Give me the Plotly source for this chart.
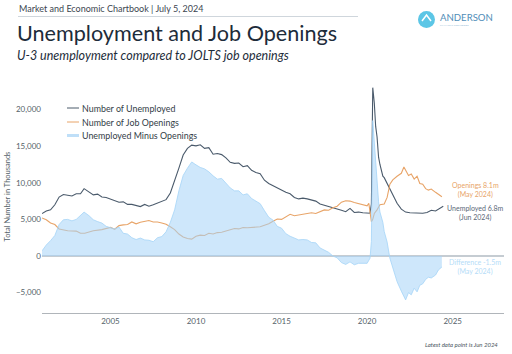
import plotly.graph_objects as go

FONT = "Lato"

unemp_t = [2001.0,2001.25,2001.5,2001.75,2002.0,2002.25,2002.5,2002.75,2003.0,2003.25,2003.46,2003.75,2004.0,2004.25,2004.5,2004.75,2005.0,2005.25,2005.5,2005.75,2006.0,2006.25,2006.5,2006.75,2007.0,2007.25,2007.5,2007.75,2008.0,2008.25,2008.5,2008.75,2009.0,2009.25,2009.5,2009.75,2010.0,2010.25,2010.5,2010.75,2011.0,2011.25,2011.5,2011.75,2012.0,2012.25,2012.5,2012.75,2013.0,2013.25,2013.5,2013.75,2014.0,2014.25,2014.5,2014.75,2015.0,2015.25,2015.5,2015.75,2016.0,2016.25,2016.5,2016.75,2017.0,2017.25,2017.5,2017.75,2018.0,2018.25,2018.5,2018.75,2019.0,2019.25,2019.5,2019.75,2020.0,2020.17,2020.25,2020.33,2020.42,2020.5,2020.58,2020.67,2020.75,2020.92,2021.0,2021.25,2021.5,2021.75,2022.0,2022.25,2022.5,2022.75,2023.0,2023.25,2023.5,2023.75,2024.0,2024.25,2024.45]
unemp_v = [5800,6150,6300,7000,8050,8400,8300,8200,8500,8500,9200,8800,8350,8450,8050,8000,7800,7600,7350,7400,7050,7050,6950,6750,7050,6800,7000,7250,7500,7700,8600,10200,12000,13800,14700,15150,15050,15200,14700,14800,13900,14000,13850,13400,12800,12650,12700,12200,12350,11700,11400,11250,10350,9900,9600,9300,8900,8700,8500,8000,7800,7900,7800,7650,7500,7100,6950,6750,6600,6400,6250,6050,6500,5950,6000,5900,5850,5850,7100,23000,20900,17700,16300,13500,12500,10900,10700,9500,8500,7200,6400,6000,5900,5900,5800,5850,5950,6250,6150,6500,6800]

open_t = [2001.0,2001.25,2001.5,2001.75,2002.0,2002.5,2003.0,2003.25,2003.5,2003.75,2004.0,2004.5,2005.0,2005.25,2005.5,2005.75,2006.0,2006.25,2006.5,2006.75,2007.0,2007.25,2007.5,2007.75,2008.0,2008.25,2008.5,2008.75,2009.0,2009.25,2009.5,2009.75,2010.0,2010.25,2010.5,2010.75,2011.0,2011.25,2011.5,2011.75,2012.0,2012.25,2012.5,2012.75,2013.0,2013.25,2013.5,2013.75,2014.0,2014.25,2014.5,2014.75,2015.0,2015.25,2015.5,2015.75,2016.0,2016.25,2016.5,2016.75,2017.0,2017.25,2017.5,2017.75,2018.0,2018.25,2018.5,2018.75,2019.0,2019.25,2019.5,2019.75,2020.0,2020.1,2020.17,2020.25,2020.33,2020.42,2020.58,2020.75,2021.0,2021.17,2021.33,2021.5,2021.75,2022.0,2022.15,2022.42,2022.58,2022.75,2022.92,2023.08,2023.25,2023.42,2023.58,2023.75,2024.0,2024.17,2024.37]
open_v = [5200,4950,4500,4300,3700,3450,3400,3100,3100,3300,3450,3600,3900,3650,4150,4250,4300,4650,4400,4600,4700,4850,4650,4650,4500,4350,4000,3600,3000,2600,2400,2300,2700,2850,2800,3100,3000,3200,3250,3400,3600,3750,3700,3900,3850,3900,3950,4000,4200,4400,4750,5050,5000,5350,5700,5500,5600,5700,5700,5900,5800,6100,6300,6250,6600,6800,7350,7550,7500,7300,7150,6950,6850,7200,6000,4700,5000,5800,6300,7000,7100,8000,9800,10400,10900,11300,12150,11000,11200,10500,10900,9900,9800,9200,9000,9150,8700,8400,8100]

diff_t = [2001.0,2001.25,2001.5,2001.75,2002.0,2002.25,2002.5,2002.75,2003.0,2003.25,2003.46,2003.75,2004.0,2004.25,2004.5,2004.75,2005.0,2005.25,2005.5,2005.75,2006.0,2006.25,2006.5,2006.75,2007.0,2007.25,2007.5,2007.75,2008.0,2008.25,2008.5,2008.75,2009.0,2009.25,2009.5,2009.75,2010.0,2010.25,2010.5,2010.75,2011.0,2011.25,2011.5,2011.75,2012.0,2012.25,2012.5,2012.75,2013.0,2013.25,2013.5,2013.75,2014.0,2014.25,2014.5,2014.75,2015.0,2015.25,2015.5,2015.75,2016.0,2016.25,2016.5,2016.75,2017.0,2017.25,2017.5,2017.75,2018.0,2018.25,2018.5,2018.75,2019.0,2019.25,2019.5,2019.75,2020.0,2020.17,2020.25,2020.33,2020.42,2020.5,2020.58,2020.67,2020.75,2020.92,2021.0,2021.17,2021.33,2021.5,2021.75,2022.0,2022.25,2022.42,2022.58,2022.75,2022.92,2023.08,2023.25,2023.42,2023.58,2023.75,2024.0,2024.17,2024.37]
diff_v = [700,1500,2100,2800,4300,4950,5000,4800,5000,5500,6000,5500,4950,4700,4500,4050,3900,3700,3950,3100,3000,2500,2250,2450,2200,2150,1950,2500,2650,3300,4600,6300,8900,11000,12000,12850,12450,12100,11900,11500,10950,10500,10600,10000,9300,8900,8900,8350,8500,7850,7450,7150,6200,5300,4900,4050,3800,3050,2700,2500,2200,2250,2200,1850,1800,1100,850,500,0,-250,-900,-1150,-800,-1200,-1000,-1000,-1000,-300,2000,18500,15500,12000,10000,7400,6000,4600,3350,1900,-300,-1700,-3500,-4800,-6000,-5000,-5300,-4400,-4900,-4000,-3800,-3200,-2900,-3000,-2600,-1900,-1500]

x_ticks = [2005, 2010, 2015, 2020, 2025]
y_ticks = [-5000, 0, 5000, 10000, 15000, 20000]
legend_names = ["Number of Unemployed", "Number of Job Openings", "Unemployed Minus Openings"]

fig = go.Figure()
fig.add_trace(go.Scatter(x=unemp_t, y=unemp_v, mode="lines", name=legend_names[0],
                         line=dict(color="#4a5a6b", width=1.1)))
fig.add_trace(go.Scatter(x=open_t, y=open_v, mode="lines", name=legend_names[1],
                         line=dict(color="#e8a468", width=1.1)))
fig.add_trace(go.Scatter(x=diff_t, y=diff_v, mode="lines", name=legend_names[2],
                         fill="tozeroy", fillcolor="rgba(165,212,247,0.55)",
                         line=dict(color="rgba(165,212,247,0.8)", width=1)))

def px_x(x): return (x-42)/462
def px_y(y): return (313-y)/233

def txt(x, y, s, size, color, anchor="left", italic=False):
    fig.add_annotation(xref="paper", yref="paper", x=px_x(x), y=px_y(y), text=s,
                       showarrow=False, xanchor=anchor, yanchor="middle", borderpad=0,
                       font=dict(family=FONT, size=size, color=color,
                                 style="italic" if italic else "normal"))

def hline(x0, x1, y, color, width):
    fig.add_shape(type="line", xref="paper", yref="paper", x0=px_x(x0), x1=px_x(x1),
                  y0=px_y(y), y1=px_y(y), line=dict(color=color, width=width))

txt(18, 8.5, "Market and Economic Chartbook | July 5, 2024", 9, "#3c4650")
txt(15.5, 33, "Unemployment and Job Openings", 21.6, "#1d2c3a")
txt(15.5, 55, "U-3 unemployment compared to JOLTS job openings", 12.5, "#1d2c3a", italic=True)
txt(475.5, 189.5, "Openings 8.1m<br>(May 2024)", 7, "#e8a468", "center")
txt(475.5, 213.5, "Unemployed 6.8m<br>(Jun 2024)", 7, "#5a6878", "center")
txt(475, 266.5, "Difference -1.5m<br>(May 2024)", 7, "#b5dcf8", "center")
txt(461, 344, "Latest data point is Jun 2024", 6, "#4a5560", "center", italic=True)
txt(439, 17, "ANDERSON", 9.6, "#4f8db8")
txt(439, 25, "FINANCIAL STRATEGIES", 2.6, "#8fb9d4")

for name, y, col, w in zip(legend_names, [108, 122, 135.5], ["#4a5a6b", "#e8a468", "#bfdff8"], [1, 1, 3]):
    hline(67, 79, y, col, w)
    txt(81, y, name, 8.9, "#333d47")

hline(18, 358, 16.5, "#cfd6dc", 1)
fig.add_shape(type="circle", xref="paper", yref="paper",
              x0=px_x(418), x1=px_x(435), y0=px_y(11), y1=px_y(28),
              fillcolor="#5cc6e6", line=dict(width=0))
fig.add_shape(type="path", xref="paper", yref="paper",
              path=" ".join([("M" if i == 0 else "L") + f"{px_x(a):.4f},{px_y(b):.4f}"
                             for i, (a, b) in enumerate([(422,21),(426.5,15),(431,21)])]),
              line=dict(color="white", width=1.5))

fig.update_layout(
    width=512, height=354, margin=dict(l=42, r=8, t=80, b=41),
    paper_bgcolor="white", plot_bgcolor="white",
    font=dict(family=FONT, size=8, color="#555f69"),
    showlegend=False,
    xaxis=dict(range=[2001, 2028], tickvals=x_ticks, ticks="", showgrid=False, zeroline=False,
               showline=True, linecolor="#b0b5ba", linewidth=1, tickfont=dict(size=8),
               automargin=False),
    yaxis=dict(range=[-7787, 24044], tickvals=y_ticks, tickformat=",", ticks="", showgrid=False,
               zeroline=True, zerolinecolor="#c5ccd2", zerolinewidth=1.8, showline=False,
               automargin=False,
               title=dict(text="Total Number in Thousands", font=dict(size=7.5), standoff=4),
               tickfont=dict(size=8)),
)
fig.write_html("out.html", config={"displayModeBar": False},
               post_script="document.body.style.margin='0';document.documentElement.style.overflow='hidden';")
